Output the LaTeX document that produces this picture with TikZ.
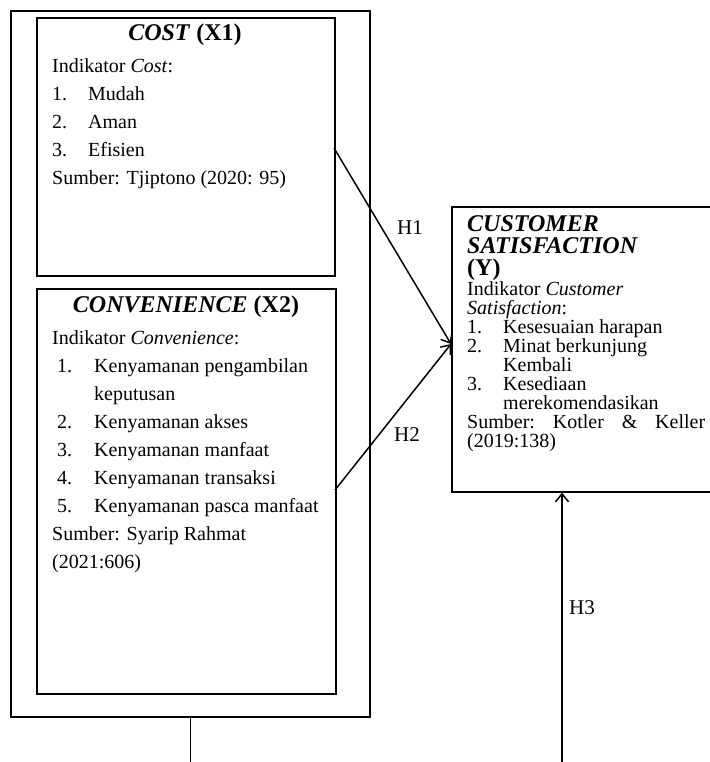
\documentclass[tikz,border=0pt]{standalone}
\usepackage{fontspec}
\setmainfont{Liberation Serif}
\usetikzlibrary{positioning,arrows.meta}

\begin{document}
\begin{tikzpicture}[x=1pt, y=-1pt,
  box/.style = {draw, line width=1.6pt, inner sep=0pt, anchor=north west},
  ttl/.style = {font=\fontsize{24}{22}\selectfont\bfseries, inner sep=0pt},
  body/.style = {font=\fontsize{20}{28}\selectfont, align=left, inner sep=0pt, anchor=north west},
  hyp/.style = {font=\fontsize{21}{21}\selectfont, inner sep=0pt},
  arr/.style = {line width=1.5pt, -{Straight Barb[length=8pt,width=13pt,line width=1.5pt]}}]
\useasboundingbox (0,0) rectangle (709,762);

% boxes
\node[box, minimum width=359pt, minimum height=706pt] (outer) at (10,10) {};
\node[box, minimum width=298pt, minimum height=258pt] (cost) at (36,17) {};
\node[box, minimum width=299pt, minimum height=405pt] (conv) at (36,288) {};
\node[box, minimum width=262pt, minimum height=285pt] (cust) at (451,206) {};

% X1
\node[ttl] (costT) at (185,35) {\textit{COST} (X1)};
\node[body] (costL) at (52,58) {Indikator \textit{Cost}:\\
  \makebox[36pt][l]{1.}Mudah\\
  \makebox[36pt][l]{2.}Aman\\
  \makebox[36pt][l]{3.}Efisien\\
  Sumber: Tjiptono (2020: 95)};

% X2
\node[ttl] (convT) at (186,307) {\textit{CONVENIENCE} (X2)};
\node[body] (convL) at (52,330) {Indikator \textit{Convenience}:\\
  \hspace*{5pt}\makebox[37pt][l]{1.}Kenyamanan pengambilan\\
  \hspace*{42pt}keputusan\\
  \hspace*{5pt}\makebox[37pt][l]{2.}Kenyamanan akses\\
  \hspace*{5pt}\makebox[37pt][l]{3.}Kenyamanan manfaat\\
  \hspace*{5pt}\makebox[37pt][l]{4.}Kenyamanan transaksi\\
  \hspace*{5pt}\makebox[37pt][l]{5.}Kenyamanan pasca manfaat\\
  Sumber: Syarip Rahmat\\
  (2021:606)};

% Y
\node[ttl, align=left, anchor=north west] (custT) at (467,215)
  {\textit{CUSTOMER}\\ \textit{SATISFACTION}\\ (Y)};
\node[body, font=\fontsize{20}{19}\selectfont] (custL) at (467,281) {Indikator \textit{Customer}\\
  \textit{Satisfaction}:\\
  \makebox[36pt][l]{1.}Kesesuaian harapan\\
  \makebox[36pt][l]{2.}Minat berkunjung\\
  \hspace*{36pt}Kembali\\
  \makebox[36pt][l]{3.}Kesediaan\\
  \hspace*{36pt}merekomendasikan\\
  \makebox[238pt][l]{Sumber:\hfill Kotler\hfill\&\hfill Keller}\\
  (2019:138)};

% connectors
\coordinate (h1s) at (334,148);
\coordinate (h2s) at (335,490);
\coordinate (yin) at (451,344);
\coordinate (h3s) at (562,762);
\draw[arr] (h1s) -- (yin);
\draw[arr] (h2s) -- (yin);
\draw[line width=1.5pt] (outer.south) -- (outer.south |- h3s);
\draw[arr] (h3s) -- (h3s |- cust.south);

\node[hyp] (h1) at (410,228) {H1};
\node[hyp] (h2) at (407,435) {H2};
\node[hyp] (h3) at (582,608) {H3};
\end{tikzpicture}
\end{document}
